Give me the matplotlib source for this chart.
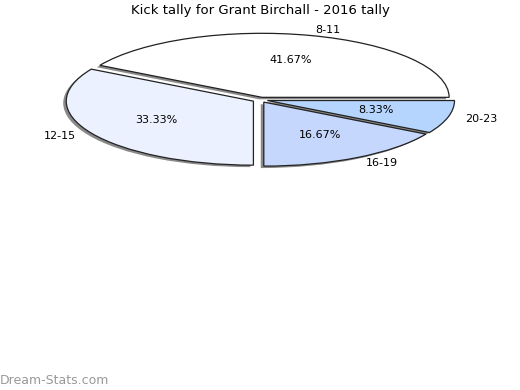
import matplotlib
matplotlib.use('Agg')
import matplotlib.pyplot as plt

title = 'Kick tally for Grant Birchall - 2016 tally'
labels = ['8-11', '12-15', '16-19', '20-23']
kicks = [5, 4, 2, 1]
colors = ['#FFFFFF', '#EBF1FE', '#C5D7FC', '#B5D5FE']

fig = plt.figure(figsize=(5.2, 3.9), dpi=100)
# axes placed so the squashed pie sits in the top half
ax = fig.add_axes([0.0615, 0.544, 0.877, 0.400])

explode = [0.04] * len(kicks)
r = 0.985

# gray shadow: same pie shifted a little left and down
ax.pie(kicks, colors=['#8A8A8A'] * len(kicks), startangle=0, explode=explode,
       radius=r, center=(-0.016, -0.03), wedgeprops={'linewidth': 0})

wedges, texts, pcts = ax.pie(
    kicks, labels=labels, colors=colors, startangle=0, counterclock=True,
    explode=explode, radius=r, autopct='%.2f%%', pctdistance=0.6,
    labeldistance=1.095,
    wedgeprops={'edgecolor': '#222222', 'linewidth': 0.9},
    textprops={'fontsize': 8},
)
ax.set_aspect('auto')
ax.set_xlim(-1.2, 1.2)
ax.set_ylim(-1.2, 1.2)

fig.text(0.5, 0.973, title, ha='center', va='center', fontsize=9.5)
fig.text(0.0, 0.025, 'Dream-Stats.com', ha='left', va='center', fontsize=9, color='#999999')

fig.savefig('out.png')
